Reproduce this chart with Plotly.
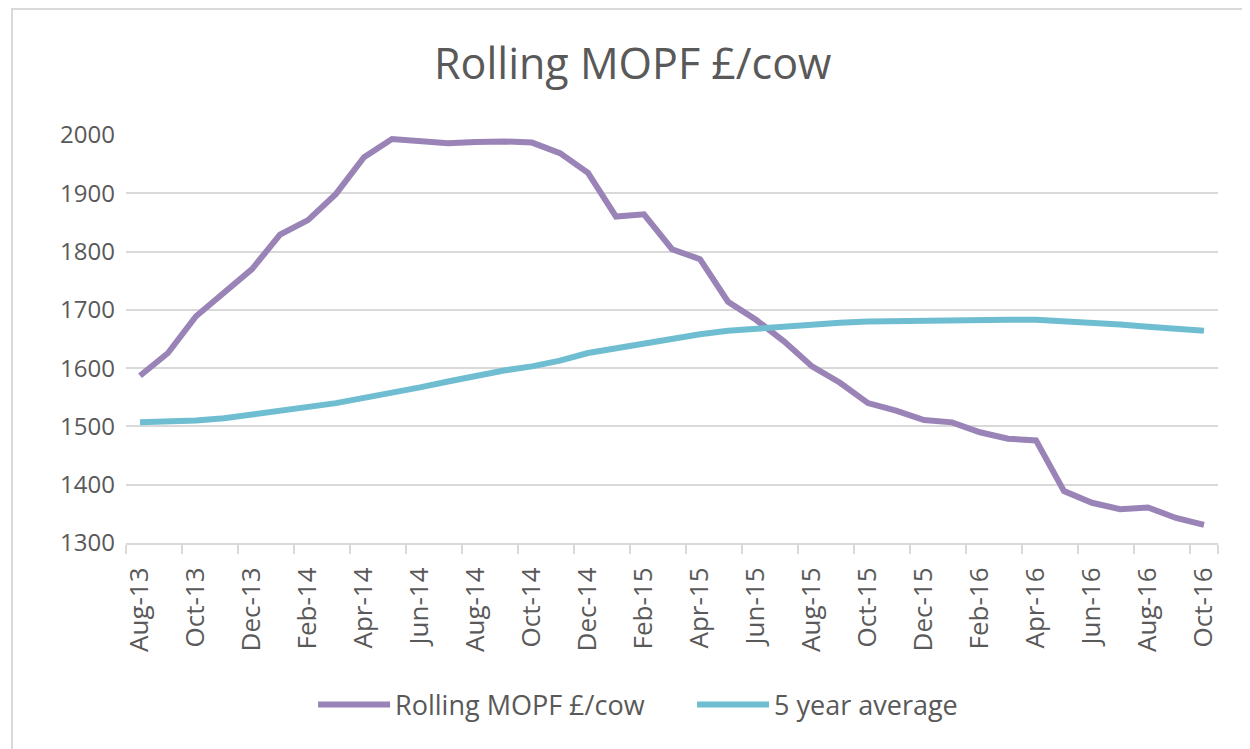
import plotly.graph_objects as go

months = ["Aug-13","Sep-13","Oct-13","Nov-13","Dec-13","Jan-14","Feb-14","Mar-14","Apr-14","May-14",
          "Jun-14","Jul-14","Aug-14","Sep-14","Oct-14","Nov-14","Dec-14","Jan-15","Feb-15","Mar-15",
          "Apr-15","May-15","Jun-15","Jul-15","Aug-15","Sep-15","Oct-15","Nov-15","Dec-15","Jan-16",
          "Feb-16","Mar-16","Apr-16","May-16","Jun-16","Jul-16","Aug-16","Sep-16","Oct-16"]

rolling_mopf = [1587, 1626, 1689, 1730, 1770, 1829, 1854, 1899, 1962, 1993,
                1990, 1986, 1988, 1989, 1987, 1969, 1935, 1860, 1864, 1804,
                1787, 1714, 1683, 1646, 1603, 1575, 1540, 1527, 1511, 1507,
                1490, 1479, 1476, 1389, 1369, 1358, 1361, 1343, 1331]

five_year_avg = [1507, 1508, 1510, 1514, 1520, 1527, 1533, 1540, 1549, 1557,
                 1567, 1577, 1587, 1596, 1603, 1613, 1626, 1634, 1644, 1651,
                 1658, 1664, 1668, 1671, 1675, 1678, 1680, 1681, 1682, 1683,
                 1683, 1683, 1683, 1681, 1678, 1675, 1671, 1668, 1664]

tick_labels = months[::2]
y_ticks = [1300, 1400, 1500, 1600, 1700, 1800, 1900, 2000]

FONT = "Open Sans"
GREY = "#595959"

fig = go.Figure()
fig.add_trace(go.Scatter(x=months, y=rolling_mopf, mode="lines", name="Rolling MOPF £/cow",
                         line=dict(color="#9A84B7", width=6)))
fig.add_trace(go.Scatter(x=months, y=five_year_avg, mode="lines", name="5 year average",
                         line=dict(color="#6FBDD1", width=6)))

fig.update_layout(
    width=1242, height=741,
    paper_bgcolor="white", plot_bgcolor="white",
    margin=dict(l=118, r=32, t=127, b=206, autoexpand=False),
    font=dict(family=FONT, color=GREY, size=24),
    title=dict(text="Rolling MOPF £/cow", x=0.503, xanchor="center", y=0.924, yanchor="middle",
               font=dict(family=FONT, size=43, color=GREY)),
    legend=dict(orientation="h", x=0.1713, xanchor="left", y=-0.397, yanchor="middle",
                font=dict(family=FONT, size=27, color=GREY), itemwidth=72,
                entrywidth=292, entrywidthmode="pixels",
                traceorder="normal"),
    showlegend=True,
)

fig.update_xaxes(
    type="category", tickmode="array", tickvals=tick_labels, ticktext=tick_labels,
    tickangle=-90, tickson="boundaries", ticks="outside", ticklen=9, tickcolor="#D9D9D9",
    tickwidth=1.5, showgrid=False, showline=True, linecolor="#D9D9D9", linewidth=2,
    ticklabelstandoff=12, automargin=False,
    tickfont=dict(family=FONT, size=26, color=GREY), range=[-0.5, 38.5],
)
fig.update_yaxes(
    range=[1300, 2000], tickmode="array", tickvals=y_ticks, showgrid=True, gridcolor="#D9D9D9",
    gridwidth=2, zeroline=False, showline=False, ticks="", ticklabelstandoff=10, automargin=False,
    tickfont=dict(family=FONT, size=24, color=GREY),
)

fig.add_shape(type="rect", xref="paper", yref="paper", x0=-0.1044, x1=1.2, y0=-1.0, y1=1.309,
              line=dict(color="#D9D9D9", width=2), fillcolor="rgba(0,0,0,0)", layer="below")

fig.write_html("out.html")
